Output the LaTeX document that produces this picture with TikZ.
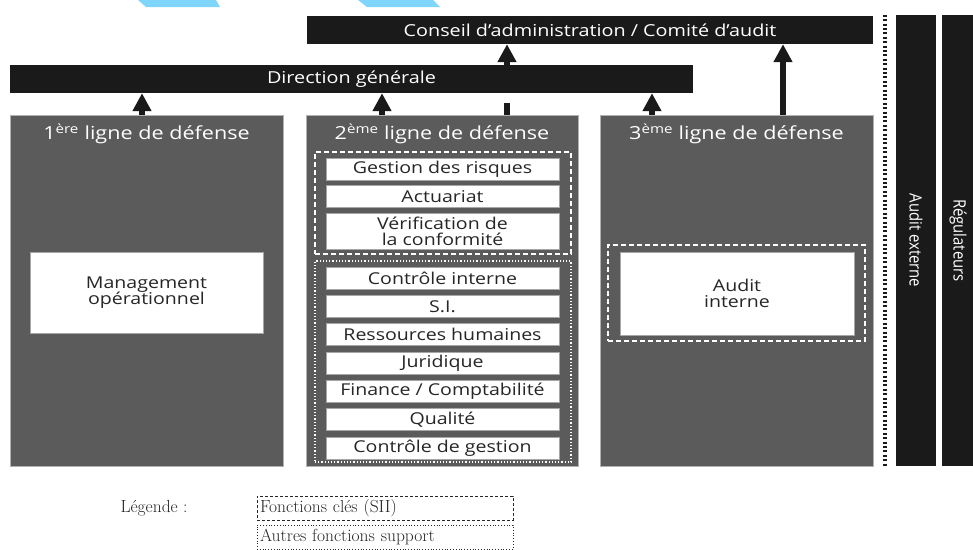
\documentclass[tikz,border=0pt]{standalone}
\usepackage{fontspec}
\setsansfont{Open Sans}[FakeStretch=1.2]
\usepackage{graphicx}
\usetikzlibrary{positioning,arrows.meta}
\definecolor{barblack}{HTML}{1A1A1A}
\definecolor{linegray}{HTML}{5B5B5B}
\definecolor{skyblue}{HTML}{80D6FA}

\begin{document}
\begin{tikzpicture}[x=1pt,y=-1pt,
    bar/.style={fill=barblack,text=white,inner sep=0pt,font=\sffamily\fontsize{16.5}{16.5}\selectfont},
    linebox/.style={fill=linegray,draw=gray!60,line width=0.8pt,inner sep=0pt,minimum width=273pt,minimum height=351pt},
    title/.style={text=white,inner sep=0pt,font=\sffamily\fontsize{18}{18}\selectfont},
    fbox/.style={fill=white,draw=gray!70,line width=0.6pt,inner sep=0pt,minimum width=233pt,minimum height=22pt,align=center,text=black!85,font=\sffamily\fontsize{16.3}{16.5}\selectfont},
    keyframe/.style={draw=white,line width=1.4pt,dash pattern=on 5pt off 3pt,inner sep=0pt,minimum width=256pt},
    supframe/.style={draw=white,line width=1.2pt,dotted,inner sep=0pt,minimum width=256pt},
    arrow/.style={draw=barblack,line width=6pt,-{Triangle[length=18pt,width=18pt]}},
    legend/.style={inner sep=3pt,text width=250pt,align=left,minimum height=24pt,font=\fontsize{17.5}{17.5}\selectfont,text=black!85}]

    \useasboundingbox (0,0) rectangle (973,549);

    % bits of blue at the top edge
    \fill[skyblue] (138,0) -- (216,0) -- (220,7) -- (146,7) -- cycle;
    \fill[skyblue] (358,0) -- (433,0) -- (440,7) -- (367,7) -- cycle;

    % top bars
    \node[bar, minimum width=566pt, minimum height=28pt] (board) at (590,30) {Conseil d’administration / Comité d’audit};
    \node[bar, minimum width=683pt, minimum height=28pt] (dg) at (351.5,79) {Direction générale};

    % three lines of defence
    \node[linebox] (l1) at (146.5,290.5) {};
    \node[linebox, minimum width=272pt] (l2) at (442,290.5) {};
    \node[linebox] (l3) at (736.5,290.5) {};

    \node[title, below=9pt of l1.north] (t1) {1\textsuperscript{ère} ligne de défense};
    \node[title, below=9pt of l2.north] (t2) {2\textsuperscript{ème} ligne de défense};
    \node[title, below=9pt of l3.north] (t3) {3\textsuperscript{ème} ligne de défense};

    % 1st line
    \node[fbox, minimum height=81pt] (mgmt) at (146.5,292.5) {Management\\opérationnel};

    % 2nd line, key functions
    \node[keyframe, minimum height=102pt] (key2) at (443,203) {};
    \node[fbox] (risk) at (442.5,169) {Gestion des risques};
    \node[fbox, below=5pt of risk] (act) {Actuariat};
    \node[fbox, below=5pt of act, minimum height=36pt] (conf) {Vérification de\\la conformité};

    % 2nd line, other support functions
    \node[supframe, minimum height=201pt] (sup2) at (443,361.5) {};
    \node[fbox] (ci) at (442.5,278) {Contrôle interne};
    \node[fbox, below=5.7pt of ci] (si) {S.I.};
    \node[fbox, below=5.7pt of si] (rh) {Ressources humaines};
    \node[fbox, below=5.7pt of rh] (jur) {Juridique};
    \node[fbox, below=5.7pt of jur] (fin) {Finance / Comptabilité};
    \node[fbox, below=5.7pt of fin] (qual) {Qualité};
    \node[fbox, below=5.7pt of qual] (cg) {Contrôle de gestion};

    % 3rd line
    \node[keyframe, minimum width=257pt, minimum height=96pt] (key3) at (736.5,293) {};
    \node[fbox, minimum width=234pt, minimum height=83pt] (ai) at (737,293.5) {Audit\\interne};

    % external columns
    \node[bar, rotate=-90, minimum width=451pt, minimum height=40pt, font=\sffamily\fontsize{17}{17}\selectfont] (ext) at (916,240.5) {\scalebox{0.73}[1]{Audit externe}};
    \node[bar, rotate=-90, minimum width=451pt, minimum height=32pt, font=\sffamily\fontsize{17}{17}\selectfont] (reg) at (958,240.5) {\scalebox{0.73}[1]{Régulateurs}};
    \draw[barblack, line width=4pt, dash pattern=on 2pt off 2.4pt] ([xshift=-11pt]ext.south west) -- ([xshift=-11pt]ext.south east);

    % reporting arrows
    \coordinate (a1) at ([xshift=-4.5pt]l1.north);
    \coordinate (a2) at ([xshift=-60pt]l2.north);
    \coordinate (a3) at ([xshift=65pt]l2.north);
    \coordinate (a4) at ([xshift=-84.5pt]l3.north);
    \coordinate (a5) at ([xshift=46.5pt]l3.north);
    \draw[arrow] (a1) -- (a1 |- dg.south);
    \draw[arrow] (a2) -- (a2 |- dg.south);
    \draw[arrow, dash pattern=on 12pt off 10pt on 200pt] (a3) -- (a3 |- board.south);
    \draw[arrow] (a4) -- (a4 |- dg.south);
    \draw[arrow] (a5) -- (a5 |- board.south);

    % legend
    \node[font=\fontsize{17.5}{17.5}\selectfont, text=black!85] (leg) at (154,508) {Légende :};
    \node[legend, draw=black!85, line width=1pt, dash pattern=on 3pt off 2pt] (keyl) at (385,508) {Fonctions clés (SII)};
    \node[legend, draw=black!85, line width=0.8pt, dotted, below=4pt of keyl] (supl) {Autres fonctions support};
\end{tikzpicture}
\end{document}
